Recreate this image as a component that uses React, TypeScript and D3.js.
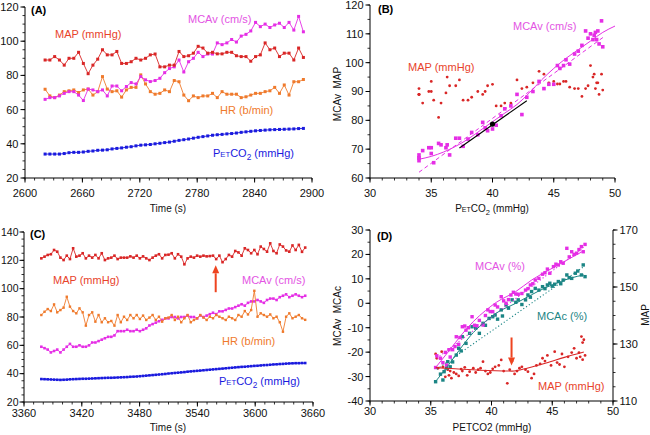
import React from "react";
import * as d3 from "d3";

const FONT = "'Liberation Sans', Arial, Helvetica, sans-serif";
const RED = "#d92626";
const RED_TXT = "#e8432b";
const MAG = "#e52ee5";
const MAG_TXT = "#e354e3";
const ORG = "#ef7a2c";
const BLUE = "#1a1ade";
const TEAL = "#1b8585";
const ARROW = "#ee4420";

// ---------- Panel A (time series, 5 s samples) ----------
const T_A0 = 2621;
const T_A_STEP = 5;
const mapA = [89, 89, 91, 89, 86, 90, 90, 93.5, 87, 81, 86, 89.5, 95, 92, 92, 94, 87, 87, 88, 90, 89, 90, 92, 92.5, 85, 85, 86, 86,
  94, 91, 91.5, 93, 97, 96, 93, 93.5, 92.6, 92.6, 93.5, 93.5, 91.5, 91, 91, 88.3, 91, 92, 99, 95, 96, 91, 93, 93, 89, 96, 90.5];
const mcavA = [66, 67, 67, 68, 69.5, 70.5, 70.5, 68.5, 65.3, 72, 71.5, 70.5, 71.5, 68, 73.8, 73.8, 71, 73.5, 75.8, 75, 79.3, 77.4, 76.4, 77, 78.3, 81.6, 84, 85,
  89, 82, 88, 90, 93.5, 91, 92.5, 92.5, 99, 98, 99, 101, 99.5, 103, 104, 106, 111, 108.5, 110, 108, 109.5, 110.5, 108, 111, 106.5, 114.5, 105.5];
const hrA = [71.9, 68, 67, 68.5, 70.5, 71, 71.5, 70, 71.5, 72, 68.5, 70.5, 79.3, 72, 70.5, 71, 67.3, 71.5, 73, 73, 80.3, 75, 70.5, 69, 69.5, 71.5, 70.5, 77,
  76.3, 68.5, 65.2, 68, 67, 68, 68, 69.5, 67, 70.5, 69, 69, 69, 67, 67.5, 68.5, 69.5, 69.5, 70.5, 71, 73, 69.5, 74.4, 68.5, 76.3, 76.3, 77.6];
const petco2A = [34, 34, 34, 34, 34.3, 34.8, 35, 35, 35.2, 35.6, 35.8, 36.2, 36.3, 36.5, 37, 37.3, 37.6, 38, 38.3, 38.8, 39.2, 39.4, 39.6, 40, 40.3, 40.7, 41, 41.5,
  42, 42.4, 42.8, 43.3, 43.8, 44.2, 44.6, 45, 45.3, 45.5, 45.8, 46, 46.3, 46.7, 47, 47.3, 47.6, 47.8, 48, 48.2, 48.3, 48.4, 48.5, 48.6, 48.7, 48.9, 49];

// ---------- Panel B fits ----------
const fitB = [[34, 66.5], [35, 67.5], [36, 69], [37, 71], [38, 73.5], [39, 76.5], [40, 79.5], [41, 82.5], [42, 85.5], [43, 89.5], [44, 94], [45, 98], [46, 101.5], [47, 104.5], [48, 107.5], [49, 110.5], [50, 112.7]];
const linB = [[34, 62], [49.1, 109]];
const blackB = [[37.3, 70.4], [42.8, 86.8]];
const dotB = [40, 78.7];

// ---------- Panel C (time series, 3.3 s samples) ----------
const T_C0 = 3378;
const T_C_STEP = 3.3;
const mapC = [121.4, 122.6, 123.8, 124.3, 127.3, 126.1, 121.9, 120.2, 123.3, 120.9, 128.5, 122.6, 123.3, 125, 121.4, 123.3, 121.9, 123.8, 121.4, 125,
  120.2, 121.4, 121.9, 123.3, 120.9, 121.9, 121.9, 121.9, 122.8, 121.9, 123.3, 121.4, 122.8, 121.4, 120.2, 121.9, 123.3, 124.3, 121.4, 123.8, 124,
  125, 121.4, 124.3, 122.6, 117.2, 121.4, 122.6, 121.9, 123.3, 122.6, 123.3, 122.8, 123, 123.3, 120.9, 123.3, 118.7, 120.9, 123.8, 122.6,
  126.6, 125.6, 123.3, 128.5, 127.3, 125, 127.3, 124.3, 129.7, 128, 126.1, 132, 126.6, 125, 131.2, 129.7, 127, 126.1, 130.5, 127.3, 130.9, 126, 129];
const hrC = [81.4, 83.7, 85.6, 84.2, 88.9, 83.3, 84.9, 86.6, 94.3, 87.3, 84.2, 82.6, 86.1, 83.3, 73.9, 81.4, 83.3, 76.7, 81.4, 76.3,
  79.1, 76.3, 77.2, 73.9, 81.4, 76.3, 80.2, 77.9, 81.4, 79.1, 81.4, 78.6, 81, 77.9, 79.6, 81.4, 77.9, 80.2, 76.7, 79.1, 79.6,
  81.4, 77.9, 80.2, 76.3, 79.1, 81.4, 76.3, 77.9, 79.1, 81.4, 79.6, 77.9, 80.2, 79.1, 81.4, 80.2, 79.1, 77.9, 80.2, 79.1,
  77.9, 81.4, 80.2, 84.2, 81.8, 84.9, 98.5, 80.2, 82.6, 81.4, 80.2, 81.8, 79.1, 80.2, 76.3, 69.6, 80.2, 82.6, 79.1, 80.2, 81.4, 79.1, 78];
const mcavC = [59, 58, 57, 55, 56, 57, 55, 57, 59, 61, 59, 59, 60, 59, 59, 60, 62, 62, 63, 64, 65, 66, 66, 67,
  70, 70, 70, 71, 70, 70, 71, 70, 71, 72, 74, 75, 76, 77, 78, 79, 79,
  80, 80, 79, 80, 80, 81, 80, 80, 79, 81, 80, 81, 82, 83, 82, 84, 84, 85, 86, 86, 87, 88, 89, 88, 90, 91, 91, 92, 91, 90, 92, 93, 93, 92, 94, 95, 96, 94, 95, 96, 95, 94, 95];
const petco2C = [36.2, 36.1, 36, 35.9, 35.8, 35.7, 35.6, 35.7, 35.8, 36, 36.1, 36.2, 36.3, 36.4, 36.4, 36.5, 36.6, 36.7, 36.8, 36.9, 37, 37.1, 37.1, 37.2,
  37.3, 37.4, 37.5, 37.6, 37.8, 37.9, 38, 38.2, 38.4, 38.6, 38.8, 39, 39.2, 39.4, 39.6, 39.8, 40.1, 40.3, 40.5, 40.7, 40.9, 41.1, 41.4, 41.6,
  41.8, 42, 42.2, 42.4, 42.6, 42.8, 43, 43.2, 43.4, 43.6, 43.8, 44, 44.2, 44.4, 44.6, 44.8, 44.9, 45.1, 45.3, 45.5, 45.6, 45.8, 46, 46.1,
  46.3, 46.5, 46.6, 46.8, 46.9, 47.1, 47.2, 47.3, 47.4, 47.4, 47.5, 47.5];
const arrowC = { t: 3559, from: 97.5, to: 116.5 };

// ---------- Panel D (scatter vs PETCO2) ----------
const mcavPctD = [[35.4, -26.3], [35.5, -21.5], [35.8, -22.5], [36.0, -24.3], [36.2, -20.1], [36.3, -25.3], [36.5, -19], [36.6, -22], [36.8, -19], [37.0, -17.7],
  [37.1, -13.7], [37.3, -16.8], [37.4, -14], [37.6, -9.6], [37.8, -9.3], [37.9, -11], [38.1, -10], [38.4, -5.5], [38.6, -9], [38.8, -9.2], [39.0, -7], [39.3, -8.9],
  [39.5, -5], [39.7, -2.7], [39.9, -3.4], [40.1, -3.4], [40.3, -0.7], [40.5, -1.5], [40.8, 2.7], [41.0, 1], [41.2, 0], [41.4, 1.5], [41.6, 3.4], [41.8, 4.5],
  [42.0, 3.8], [42.2, 3.7], [42.5, 4], [42.8, 5.4], [43.0, 6], [43.2, 7.5], [43.4, 8], [43.6, 9.5], [43.9, 10.2], [44.2, 11.9], [44.4, 12.5], [44.6, 14],
  [44.8, 12.3], [45.1, 15], [45.3, 16], [45.5, 15.7], [45.7, 17], [45.9, 16.4], [46.2, 22.5], [46.4, 19], [46.6, 21.1], [46.8, 20], [47.0, 20.5], [47.2, 22],
  [47.4, 23.2], [47.55, 21.1], [47.7, 24.1]];
const mcacPctD = [[35.4, -32.1], [35.8, -29], [36.0, -31.4], [36.1, -28], [36.3, -26.5], [36.4, -23.9], [36.6, -26], [36.8, -24], [37.1, -21.2], [37.3, -18.4],
  [37.5, -19.5], [37.6, -13.7], [37.9, -16.4], [38.2, -12.3], [38.4, -9.6], [38.7, -10.2], [39.0, -12.3], [39.3, -8.2], [39.5, -9], [39.8, -6.2], [40.1, -5.5],
  [40.3, -4.8], [40.5, -6.5], [40.8, -2.7], [40.9, -5.2], [41.2, -0.7], [41.4, -2], [41.7, 1.4], [42.0, 0.4], [42.2, 1.4], [42.5, -0.5], [42.8, 1.4], [43.0, 3.4],
  [43.2, 2.5], [43.3, 4.8], [43.6, 6.1], [43.9, 5.4], [44.2, 6.8], [44.4, 6], [44.6, 7.5], [44.8, 8.2], [45.0, 7], [45.2, 7.8], [45.5, 8.9], [45.7, 8], [45.9, 9.5],
  [46.2, 11.6], [46.4, 10.5], [46.6, 10.2], [46.9, 12.3], [47.1, 13.2], [47.4, 11.6], [47.55, 15.7], [47.7, 10.9]];
const mapD = [[35.4, 126.5], [35.5, 125], [35.6, 121.5], [35.9, 127.3], [36.0, 122], [36.1, 120.5], [36.2, 118.5], [36.3, 122.5], [36.4, 121], [36.5, 119],
  [36.6, 120.5], [36.7, 118], [36.9, 120], [37.1, 119.5], [37.3, 118.8], [37.5, 121.2], [37.6, 120.5], [37.8, 121.8], [38.0, 119], [38.2, 120.3], [38.5, 121.5],
  [38.7, 120], [38.9, 121], [39.1, 121.5], [39.3, 123.8], [39.5, 120.5], [39.7, 119.5], [39.9, 120], [40.1, 121.3], [40.3, 122], [40.6, 122.5], [40.8, 124.4],
  [41.0, 120.5], [41.3, 116.2], [41.5, 121], [41.7, 124], [41.9, 119.5], [42.1, 120.5], [42.3, 121.5], [42.5, 122], [42.8, 121], [43.0, 120.3], [43.3, 118],
  [43.5, 119.5], [43.7, 122.5], [44.0, 123], [44.2, 125], [44.4, 124], [44.6, 126], [44.9, 122.5], [45.2, 127.3], [45.4, 123.5], [45.6, 122.8], [45.8, 126.5],
  [46.0, 122], [46.3, 125.5], [46.6, 127], [46.8, 128.5], [47.0, 125], [47.2, 127], [47.4, 132.6], [47.5, 130.5], [47.6, 131.5], [47.7, 126], [47.5, 124.5], [47.3, 125.5]];
const fitMcavD = [[35.4, -26.3], [36.5, -19.5], [37.6, -12.5], [38.5, -7.5], [39.5, -3], [40.4, 0.4], [42, 4.8], [43.3, 9.5], [44.5, 13], [45.5, 15.7], [46.5, 18.5], [47.6, 21.5]];
const fitMcacD = [[35.4, -32], [36.5, -25], [37.6, -17.5], [38.5, -12], [39.5, -7.5], [40.4, -4], [42, 0], [43.3, 3.5], [44.5, 6.5], [45.5, 8.5], [46.5, 10.3], [47.6, 11.6]];
const linMcavD = [[35.5, -22.5], [47.6, 23]];
const linMcacD = [[35.5, -27], [47.6, 15]];
const fitMapD = [[35.4, 121.7], [37, 121.3], [39, 120.8], [41.7, 120.5], [43, 121.6], [44.5, 123.3], [46, 125.3], [47.6, 127.2]];
const arrowD = { p: 41.65, from: -14, to: -25.5 };

type Sc = d3.ScaleLinear<number, number>;

function AxisY({ scale, x0, majors, minorStep, side = "left", fs = 11, gap = 6.5 }: { scale: Sc; x0: number; majors: number[]; minorStep: number; side?: string; fs?: number; gap?: number }) {
  const [d0, d1] = scale.domain();
  const minors = d3.range(d0, d1 + 1e-9, minorStep);
  const dir = side === "left" ? -1 : 1;
  return (
    <g>
      <line x1={x0} x2={x0} y1={scale(d0)} y2={scale(d1)} stroke="#000" strokeWidth={1} />
      {minors.map((v) => (
        <line key={"m" + v} x1={x0} x2={x0 + dir * 2.5} y1={scale(v)} y2={scale(v)} stroke="#000" strokeWidth={0.8} />
      ))}
      {majors.map((v) => (
        <g key={v}>
          <line x1={x0} x2={x0 + dir * 4.5} y1={scale(v)} y2={scale(v)} stroke="#000" strokeWidth={1} />
          <text x={x0 + dir * gap} y={scale(v)} dy="0.36em" fontSize={fs} textAnchor={side === "left" ? "end" : "start"} fill="#111">
            {v}
          </text>
        </g>
      ))}
    </g>
  );
}

function AxisX({ scale, y0, majors, minorStep, labelY }: { scale: Sc; y0: number; majors: number[]; minorStep: number; labelY: number }) {
  const [d0, d1] = scale.domain();
  const minors = d3.range(d0, d1 + 1e-9, minorStep);
  return (
    <g>
      <line x1={scale(d0)} x2={scale(d1)} y1={y0} y2={y0} stroke="#000" strokeWidth={1} />
      {minors.map((v) => (
        <line key={"m" + v} x1={scale(v)} x2={scale(v)} y1={y0} y2={y0 + 2.5} stroke="#000" strokeWidth={0.8} />
      ))}
      {majors.map((v) => (
        <g key={v}>
          <line x1={scale(v)} x2={scale(v)} y1={y0} y2={y0 + 4.5} stroke="#000" strokeWidth={1} />
          <text x={scale(v)} y={labelY} fontSize={11} textAnchor="middle" fill="#111">
            {v}
          </text>
        </g>
      ))}
    </g>
  );
}

function Series({ xs, ys, x, y, color, s, lw = 0.9, line = true }: any) {
  const pts: [number, number][] = ys.map((v: number, i: number) => [x(xs[i]), y(v)]);
  const path = d3.line()(pts) || "";
  return (
    <g>
      {line && <path d={path} fill="none" stroke={color} strokeWidth={lw} />}
      {pts.map(([px, py], i) => (
        <rect key={i} x={px - s / 2} y={py - s / 2} width={s} height={s} fill={color} />
      ))}
    </g>
  );
}

function Scatter({ pts, x, y, color, s, shape = "square" }: any) {
  return (
    <g>
      {pts.map((p: number[], i: number) =>
        shape === "square" ? (
          <rect key={i} x={x(p[0]) - s / 2} y={y(p[1]) - s / 2} width={s} height={s} fill={color} />
        ) : (
          <circle key={i} cx={x(p[0])} cy={y(p[1])} r={s / 2} fill={color} />
        )
      )}
    </g>
  );
}

function Curve({ pts, x, y, color, lw = 1, dash, smooth = true }: any) {
  const gen = d3
    .line<number[]>()
    .x((p) => x(p[0]))
    .y((p) => y(p[1]))
    .curve(smooth ? d3.curveMonotoneX : d3.curveLinear);
  return <path d={gen(pts) || ""} fill="none" stroke={color} strokeWidth={lw} strokeDasharray={dash} />;
}

function Petco2({ x, y, color, size = 11, anchor = "start" }: any) {
  return (
    <text x={x} y={y} fill={color} fontSize={size} textAnchor={anchor}>
      P<tspan fontSize={size * 0.7}>ET</tspan>CO<tspan fontSize={size * 0.75} dy={size * 0.3}>2</tspan>
      <tspan dy={-size * 0.3}> (mmHg)</tspan>
    </text>
  );
}

function Arrow({ x, y1, y2, color }: any) {
  const dir = y2 < y1 ? -1 : 1;
  const head = 8;
  return (
    <g>
      <line x1={x} x2={x} y1={y1} y2={y2 - dir * head} stroke={color} strokeWidth={2} />
      <polygon points={`${x - 3.5},${y2 - dir * head} ${x + 3.5},${y2 - dir * head} ${x},${y2}`} fill={color} />
    </g>
  );
}

export default function App() {
  const xA = d3.scaleLinear().domain([2600, 2900]).range([25, 312]);
  const yA = d3.scaleLinear().domain([20, 120]).range([178, 7]);
  const xB = d3.scaleLinear().domain([30, 50]).range([370, 615]);
  const yB = d3.scaleLinear().domain([60, 120]).range([178, 5]);
  const xC = d3.scaleLinear().domain([3360, 3660]).range([24, 313]);
  const yC = d3.scaleLinear().domain([20, 140]).range([402, 232]);
  const xD = d3.scaleLinear().domain([30, 50]).range([370, 613]);
  const yDL = d3.scaleLinear().domain([-40, 30]).range([401, 230]);
  const yDR = d3.scaleLinear().domain([110, 170]).range([401, 230]);

  const tA = mapA.map((_, i) => T_A0 + i * T_A_STEP);
  const tC = mapC.map((_, i) => T_C0 + i * T_C_STEP);

  const mcavB = petco2A.map((p, i) => [p, mcavA[i]]);
  const mapB = petco2A.map((p, i) => [p, mapA[i]]);

  return (
    <svg width={650} height={435} style={{ position: "absolute", left: 0, top: 0 }} fontFamily={FONT}>
      <rect width={650} height={435} fill="#fff" />

      {/* ---------------- Panel A ---------------- */}
      <AxisY scale={yA} x0={25} majors={d3.range(20, 121, 20)} minorStep={5} />
      <AxisX scale={xA} y0={178} majors={d3.range(2600, 2901, 60)} minorStep={10} labelY={197} />
      <text x={168} y={212} fontSize={10} textAnchor="middle" fill="#111">Time (s)</text>
      <text x={31} y={14} fontSize={11} fontWeight="bold" fill="#000">(A)</text>
      <Series xs={tA} ys={petco2A} x={xA} y={yA} color={BLUE} s={3} />
      <Series xs={tA} ys={hrA} x={xA} y={yA} color={ORG} s={3} />
      <Series xs={tA} ys={mcavA} x={xA} y={yA} color={MAG} s={3} />
      <Series xs={tA} ys={mapA} x={xA} y={yA} color={RED} s={3} />
      <text x={55} y={38} fontSize={11} fill={RED_TXT}>MAP (mmHg)</text>
      <text x={188} y={23} fontSize={11} fill={MAG_TXT}>MCAv (cm/s)</text>
      <text x={220} y={114} fontSize={11} fill={ORG}>HR (b/min)</text>
      <Petco2 x={213} y={157} color={BLUE} />

      {/* ---------------- Panel B ---------------- */}
      <AxisY scale={yB} x0={370} majors={d3.range(60, 121, 10)} minorStep={5} />
      <AxisX scale={xB} y0={178} majors={d3.range(30, 51, 5)} minorStep={1} labelY={197} />
      <text x={378} y={13} fontSize={11} fontWeight="bold" fill="#000">(B)</text>
      <text transform="translate(341,94) rotate(-90)" fontSize={10} textAnchor="middle" fill="#111" style={{ whiteSpace: "pre" }}>MCAv  MAP</text>
      <Petco2 x={492} y={212} color="#111" size={10} anchor="middle" />
      <Scatter pts={mapB} x={xB} y={yB} color={RED} s={2.8} shape="circle" />
      <Scatter pts={mcavB} x={xB} y={yB} color={MAG} s={3.6} />
      <Curve pts={fitB} x={xB} y={yB} color={MAG} lw={1} />
      <Curve pts={linB} x={xB} y={yB} color={MAG} lw={1} dash="4,3" smooth={false} />
      <Curve pts={blackB} x={xB} y={yB} color="#000" lw={1.1} smooth={false} />
      <circle cx={xB(dotB[0])} cy={yB(dotB[1])} r={2.6} fill="#000" />
      <text x={513} y={30} fontSize={11} fill={MAG_TXT}>MCAv (cm/s)</text>
      <text x={408} y={71} fontSize={11} fill={RED_TXT}>MAP (mmHg)</text>

      {/* ---------------- Panel C ---------------- */}
      <AxisY scale={yC} x0={24} majors={d3.range(20, 141, 20)} minorStep={5} fs={10.5} gap={5.5} />
      <AxisX scale={xC} y0={402} majors={d3.range(3360, 3661, 60)} minorStep={10} labelY={417} />
      <text x={168} y={431} fontSize={10} textAnchor="middle" fill="#111">Time (s)</text>
      <text x={30} y={238} fontSize={11} fontWeight="bold" fill="#000">(C)</text>
      <Series xs={tC} ys={petco2C} x={xC} y={yC} color={BLUE} s={2.6} lw={1.2} />
      <Series xs={tC} ys={mcavC} x={xC} y={yC} color={MAG} s={2.6} />
      <Series xs={tC} ys={hrC} x={xC} y={yC} color={ORG} s={2.4} />
      <Series xs={tC} ys={mapC} x={xC} y={yC} color={RED} s={2.6} />
      <Arrow x={xC(arrowC.t)} y1={yC(arrowC.from)} y2={yC(arrowC.to)} color={ARROW} />
      <text x={53} y={284} fontSize={11} fill={RED_TXT}>MAP (mmHg)</text>
      <text x={242} y={284} fontSize={11} fill={MAG_TXT}>MCAv (cm/s)</text>
      <text x={222} y={345} fontSize={11} fill={ORG}>HR (b/min)</text>
      <Petco2 x={219} y={385} color={BLUE} />

      {/* ---------------- Panel D ---------------- */}
      <AxisY scale={yDL} x0={370} majors={d3.range(-40, 31, 10)} minorStep={5} />
      <AxisY scale={yDR} x0={613} majors={[110, 130, 150, 170]} minorStep={5} side="right" />
      <AxisX scale={xD} y0={401} majors={d3.range(30, 51, 5)} minorStep={1} labelY={415} />
      <text x={377} y={240} fontSize={11} fontWeight="bold" fill="#000">(D)</text>
      <text transform="translate(341,316) rotate(-90)" fontSize={10} textAnchor="middle" fill="#111" style={{ whiteSpace: "pre" }}>MCAv  MCAc</text>
      <text transform="translate(649,315) rotate(-90)" fontSize={10} textAnchor="middle" fill="#111">MAP</text>
      <text x={492} y={431} fontSize={10} textAnchor="middle" fill="#111">PETCO2 (mmHg)</text>
      <Scatter pts={mapD} x={xD} y={yDR} color={RED} s={2.8} shape="circle" />
      <Scatter pts={mcacPctD} x={xD} y={yDL} color={TEAL} s={3.4} />
      <Scatter pts={mcavPctD} x={xD} y={yDL} color={MAG} s={3.4} />
      <Curve pts={linMcacD} x={xD} y={yDL} color={TEAL} lw={1.1} dash="1.2,2.2" smooth={false} />
      <Curve pts={linMcavD} x={xD} y={yDL} color={MAG} lw={1.1} dash="1.2,2.2" smooth={false} />
      <Curve pts={fitMcacD} x={xD} y={yDL} color={TEAL} lw={1} />
      <Curve pts={fitMcavD} x={xD} y={yDL} color={MAG} lw={1} />
      <Curve pts={fitMapD} x={xD} y={yDR} color={RED} lw={1.1} />
      <Arrow x={xD(arrowD.p)} y1={yDL(arrowD.from)} y2={yDL(arrowD.to)} color={ARROW} />
      <text x={475} y={270} fontSize={11} fill={MAG_TXT}>MCAv (%)</text>
      <text x={537} y={320} fontSize={11} fill={TEAL}>MCAc (%)</text>
      <text x={538} y={390} fontSize={11} fill={RED_TXT}>MAP (mmHg)</text>
    </svg>
  );
}
